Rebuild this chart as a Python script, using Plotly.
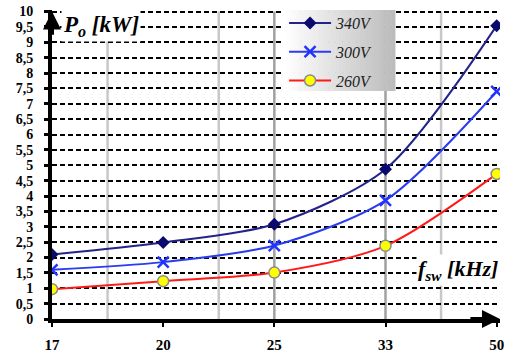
import plotly.graph_objects as go

# ---- data ----
freq_labels = ["17", "20", "25", "33", "50"]
x_pos = [0, 1, 2, 3, 4]
p_340 = [2.10, 2.49, 3.08, 4.87, 9.54]
p_300 = [1.60, 1.85, 2.39, 3.86, 7.40]
p_260 = [0.97, 1.23, 1.51, 2.38, 4.72]
y_ticks = [i * 0.5 for i in range(21)]
y_ticktext = [("%g" % v).replace(".", ",") for v in y_ticks]

SERIF = "Liberation Serif"

fig = go.Figure()

fig.add_trace(go.Scatter(
    x=x_pos, y=p_340, name="<i>340V</i>", mode="lines+markers", legendgroup="a",
    line=dict(color="#23238a", width=2, shape="spline", smoothing=0.8),
    marker=dict(symbol="diamond", size=10, color="#0a0a6e")))
fig.add_trace(go.Scatter(
    x=x_pos, y=p_300, name="<i>300V</i>", mode="lines+markers", legendgroup="b",
    line=dict(color="#2a3cf0", width=2, shape="spline", smoothing=0.8),
    marker=dict(symbol="x-thin", size=11, color="#2233ff",
                line=dict(width=2.5, color="#2233ff"))))
fig.add_trace(go.Scatter(
    x=x_pos, y=p_260, name="<i>260V</i>", mode="lines+markers", legendgroup="c",
    line=dict(color="#ff1a1a", width=2, shape="spline", smoothing=0.8),
    marker=dict(symbol="circle", size=11, color="#ffff00",
                line=dict(width=1.5, color="#8a8a8a"))))

shapes = []
# vertical grey grid lines
for xv, col in [(0.5, "#c8c8c8"), (1.5, "#c8c8c8"), (2, "#a0a0a0"),
                (3, "#a0a0a0"), (3.5, "#c8c8c8")]:
    shapes.append(dict(type="line", xref="x", yref="y", x0=xv, x1=xv, y0=0, y1=10,
                       line=dict(color=col, width=2.5), layer="below"))

# legend gradient background
lx0, lx1, ly0, ly1 = 0.5156, 0.7656, 0.738, 1.0
n = 32
for i in range(n):
    t = i / (n - 1)
    g = int(round(255 - t * (255 - 188)))
    c = "rgb(%d,%d,%d)" % (g, g, g)
    shapes.append(dict(type="rect", xref="paper", yref="paper",
                       x0=lx0 + (lx1 - lx0) * i / n, x1=lx0 + (lx1 - lx0) * (i + 1) / n + 0.001,
                       y0=ly0, y1=ly1, line=dict(width=0), fillcolor=c, layer="above"))

annotations = [
    # y axis arrow
    dict(x=0, y=10.0, ax=0, ay=9.2, xref="x", yref="y", axref="x", ayref="y",
         showarrow=True, arrowhead=2, arrowsize=0.9, arrowwidth=4, arrowcolor="black", text=""),
    # x axis arrow
    dict(x=4.03, y=0, ax=3.75, ay=0, xref="x", yref="y", axref="x", ayref="y",
         showarrow=True, arrowhead=2, arrowsize=0.9, arrowwidth=4, arrowcolor="black", text=""),
    dict(x=0.08, y=9.52, xref="x", yref="y", xanchor="left", yanchor="middle",
         text="<b><i>P<sub>o</sub> [kW]</i></b>", showarrow=False, bgcolor="white",
         font=dict(family=SERIF, size=23, color="black")),
    dict(x=4.03, y=1.6, xref="x", yref="y", xanchor="right", yanchor="middle",
         text="<b><i>f<sub>sw</sub> [kHz]</i></b>", showarrow=False, bgcolor="white",
         font=dict(family=SERIF, size=22, color="black")),
]

fig.update_layout(
    width=506, height=352,
    margin=dict(l=52, r=6, t=10, b=33, autoexpand=False),
    paper_bgcolor="white", plot_bgcolor="white",
    font=dict(family=SERIF, color="black"),
    shapes=shapes, annotations=annotations,
    showlegend=True,
    legend=dict(x=0.518, y=1.013, xanchor="left", yanchor="top",
                bgcolor="rgba(0,0,0,0)", borderwidth=0,
                font=dict(family=SERIF, size=16, color="#222"),
                traceorder="grouped", tracegroupgap=5, itemwidth=42),
    xaxis=dict(range=[0, 4.03], tickvals=x_pos, ticktext=freq_labels,
               showgrid=False, zeroline=False, showline=True, linewidth=4, linecolor="black",
               ticks="outside", ticklen=4, tickwidth=2, tickcolor="black",
               ticklabelstandoff=5, automargin=False,
               tickfont=dict(family=SERIF, size=15, color="black", weight="bold")),
    yaxis=dict(range=[0, 10.05], tickvals=y_ticks, ticktext=y_ticktext,
               showgrid=True, gridcolor="black", gridwidth=1.6, griddash="5px,3px",
               zeroline=False, showline=True, linewidth=4, linecolor="black",
               ticks="outside", ticklen=4, tickwidth=3, tickcolor="black",
               ticklabelstandoff=8, automargin=False,
               tickfont=dict(family=SERIF, size=14, color="black", weight="bold")),
)

# remove the default 8px page margin so the figure sits at the window's top-left corner
fig.write_html("out.html", config={"displayModeBar": False},
               post_script="document.body.style.margin='0px';")
